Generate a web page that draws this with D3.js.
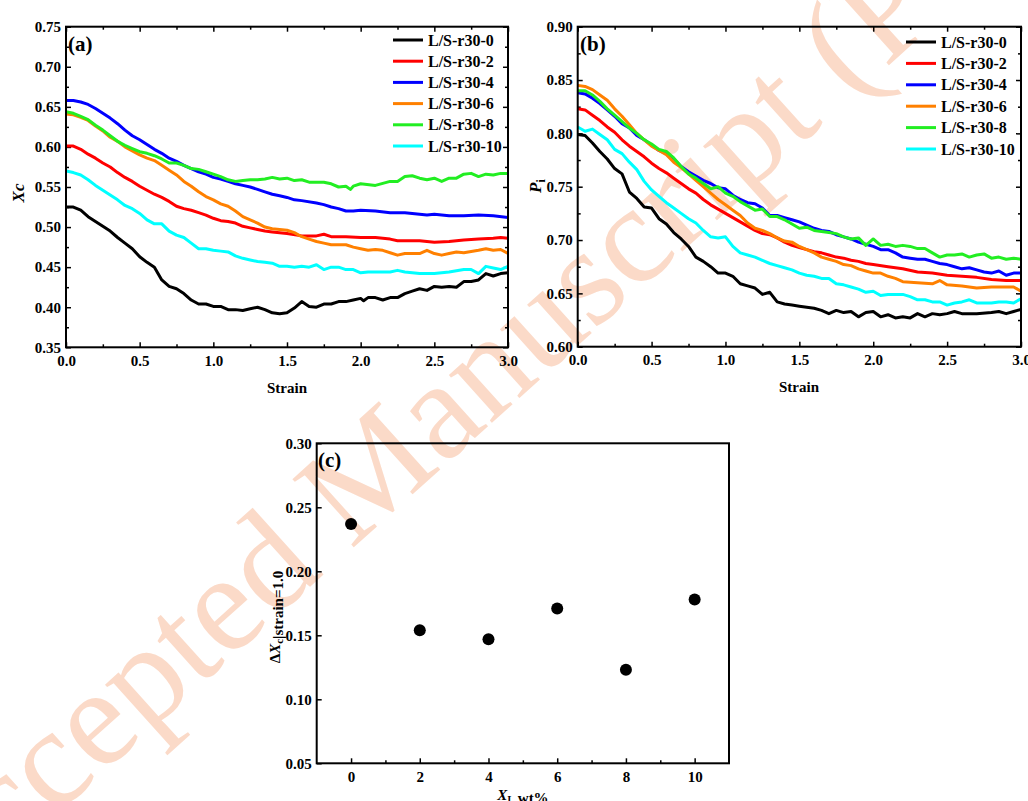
<!DOCTYPE html>
<html><head><meta charset="utf-8">
<script src="https://cdn.jsdelivr.net/npm/d3@7"></script>
<style>
body{margin:0;background:#fff}
svg{display:block}
text{font-family:"Liberation Serif","Times New Roman",serif}
</style>
</head><body>
<svg id="chart" width="1028" height="801"></svg>
<script>
// ---------------- DATA ----------------
const seriesNames = ["L/S-r30-0","L/S-r30-2","L/S-r30-4","L/S-r30-6","L/S-r30-8","L/S-r30-10"];
const strainTicks = [0,0.5,1.0,1.5,2.0,2.5,3.0];
const xcTicks = [0.35,0.40,0.45,0.50,0.55,0.60,0.65,0.70,0.75];
const piTicks = [0.60,0.65,0.70,0.75,0.80,0.85,0.90];
const dxcTicks = [0.05,0.10,0.15,0.20,0.25,0.30];
const xlTicks = [0,2,4,6,8,10];

// Panel (a): Xc vs strain, [strain, Xc]
const xc_r30_0 = [[0,.525],[.05,.525],[.1,.521],[.15,.513],[.2,.507],[.25,.501],[.3,.495],[.35,.487],[.4,.48],[.45,.473],[.5,.463],[.55,.456],[.6,.45],[.65,.434],[.7,.426],[.75,.423],[.8,.417],[.85,.409],[.9,.404],[.95,.404],[1,.401],[1.05,.401],[1.1,.397],[1.15,.397],[1.2,.396],[1.25,.398],[1.3,.4],[1.35,.397],[1.4,.393],[1.45,.392],[1.5,.393],[1.55,.399],[1.6,.407],[1.65,.401],[1.7,.4],[1.75,.404],[1.8,.404],[1.85,.407],[1.9,.407],[1.95,.409],[2,.411],[2.02,.408],[2.05,.412],[2.1,.412],[2.15,.409],[2.2,.412],[2.25,.412],[2.3,.417],[2.35,.42],[2.4,.423],[2.45,.421],[2.5,.426],[2.55,.425],[2.6,.426],[2.65,.425],[2.7,.432],[2.75,.432],[2.8,.434],[2.85,.442],[2.9,.439],[2.95,.442],[3,.443]];
const xc_r30_2 = [[0,.601],[.05,.601],[.1,.597],[.15,.591],[.2,.586],[.25,.58],[.3,.575],[.35,.568],[.4,.562],[.45,.557],[.5,.551],[.55,.546],[.6,.541],[.65,.537],[.7,.532],[.75,.526],[.8,.523],[.85,.521],[.9,.518],[.95,.515],[1,.511],[1.05,.508],[1.1,.507],[1.15,.505],[1.2,.501],[1.25,.499],[1.3,.497],[1.35,.495],[1.4,.494],[1.5,.492],[1.6,.489],[1.7,.489],[1.75,.491],[1.8,.488],[1.9,.488],[2,.487],[2.1,.487],[2.2,.485],[2.25,.483],[2.3,.483],[2.4,.483],[2.5,.481],[2.6,.482],[2.7,.484],[2.8,.485],[2.9,.486],[2.95,.487],[3,.486]];
const xc_r30_4 = [[0,.658],[.05,.658],[.1,.656],[.15,.653],[.2,.648],[.25,.642],[.3,.636],[.35,.629],[.4,.621],[.45,.614],[.5,.609],[.55,.603],[.6,.597],[.65,.592],[.7,.586],[.75,.582],[.8,.577],[.85,.573],[.9,.569],[.95,.566],[1,.562],[1.05,.56],[1.1,.557],[1.15,.554],[1.2,.552],[1.25,.55],[1.3,.547],[1.35,.544],[1.4,.541],[1.45,.539],[1.5,.537],[1.55,.534],[1.6,.533],[1.7,.53],[1.75,.528],[1.8,.525],[1.85,.523],[1.9,.52],[1.95,.52],[2,.521],[2.1,.52],[2.2,.518],[2.3,.518],[2.4,.516],[2.45,.515],[2.5,.516],[2.6,.514],[2.7,.514],[2.8,.515],[2.9,.514],[3,.512]];
const xc_r30_6 = [[0,.641],[.05,.64],[.1,.637],[.15,.633],[.2,.626],[.25,.62],[.3,.612],[.35,.607],[.4,.6],[.45,.595],[.5,.59],[.55,.586],[.6,.583],[.65,.577],[.7,.571],[.75,.565],[.8,.557],[.85,.551],[.9,.544],[.95,.538],[1,.534],[1.05,.529],[1.1,.526],[1.15,.52],[1.2,.513],[1.25,.509],[1.3,.505],[1.35,.5],[1.4,.498],[1.45,.497],[1.5,.496],[1.55,.493],[1.6,.488],[1.65,.485],[1.7,.482],[1.75,.48],[1.8,.478],[1.85,.478],[1.9,.478],[1.95,.475],[2,.473],[2.05,.471],[2.1,.472],[2.15,.471],[2.2,.468],[2.25,.465],[2.3,.467],[2.4,.467],[2.45,.471],[2.5,.467],[2.55,.465],[2.6,.467],[2.65,.469],[2.7,.468],[2.8,.471],[2.85,.473],[2.9,.471],[2.95,.472],[3,.467]];
const xc_r30_8 = [[0,.644],[.05,.642],[.1,.638],[.15,.634],[.2,.627],[.25,.621],[.3,.614],[.35,.607],[.4,.602],[.45,.598],[.5,.594],[.55,.592],[.6,.589],[.65,.585],[.7,.58],[.75,.58],[.8,.577],[.85,.573],[.9,.572],[.95,.569],[1,.566],[1.05,.563],[1.1,.559],[1.15,.557],[1.2,.558],[1.25,.559],[1.3,.559],[1.35,.56],[1.4,.562],[1.45,.56],[1.5,.561],[1.55,.558],[1.6,.559],[1.65,.556],[1.7,.556],[1.75,.556],[1.8,.554],[1.85,.55],[1.9,.551],[1.93,.547],[1.95,.551],[2,.554],[2.1,.552],[2.2,.557],[2.25,.557],[2.3,.563],[2.35,.564],[2.4,.561],[2.45,.559],[2.5,.561],[2.55,.557],[2.6,.561],[2.65,.561],[2.7,.566],[2.75,.567],[2.8,.563],[2.85,.566],[2.9,.565],[2.95,.567],[3,.567]];
const xc_r30_10 = [[0,.57],[.05,.568],[.1,.565],[.15,.559],[.2,.552],[.25,.546],[.3,.54],[.35,.534],[.4,.527],[.45,.523],[.5,.517],[.55,.509],[.6,.504],[.65,.504],[.7,.495],[.75,.49],[.8,.487],[.85,.48],[.9,.473],[.95,.473],[1,.471],[1.05,.47],[1.1,.469],[1.15,.464],[1.2,.461],[1.25,.459],[1.3,.457],[1.35,.456],[1.4,.455],[1.45,.451],[1.5,.451],[1.55,.45],[1.6,.451],[1.65,.45],[1.7,.453],[1.75,.447],[1.8,.45],[1.85,.45],[1.9,.447],[1.95,.447],[2,.443],[2.05,.444],[2.1,.444],[2.2,.444],[2.25,.446],[2.3,.444],[2.4,.442],[2.5,.442],[2.6,.444],[2.7,.447],[2.75,.447],[2.8,.442],[2.85,.451],[2.9,.449],[2.95,.447],[3,.451]];

// Panel (b): Pi vs strain, [strain, Pi]
const pi_r30_0 = [[0,.799],[.05,.798],[.1,.791],[.15,.783],[.2,.776],[.25,.767],[.3,.762],[.35,.745],[.4,.739],[.45,.731],[.5,.73],[.55,.72],[.6,.715],[.65,.707],[.7,.701],[.75,.694],[.8,.684],[.85,.68],[.9,.675],[.95,.669],[1,.669],[1.05,.666],[1.1,.659],[1.15,.657],[1.2,.655],[1.25,.649],[1.3,.651],[1.35,.642],[1.4,.64],[1.45,.639],[1.5,.638],[1.55,.637],[1.6,.636],[1.65,.634],[1.7,.631],[1.75,.634],[1.8,.632],[1.85,.633],[1.9,.628],[1.95,.632],[2,.633],[2.05,.628],[2.1,.63],[2.15,.627],[2.2,.628],[2.25,.627],[2.3,.631],[2.35,.628],[2.4,.631],[2.45,.63],[2.5,.631],[2.55,.633],[2.6,.631],[2.7,.631],[2.8,.632],[2.85,.633],[2.9,.631],[2.95,.633],[3,.635]];
const pi_r30_2 = [[0,.823],[.05,.822],[.1,.817],[.15,.812],[.2,.806],[.25,.801],[.3,.794],[.35,.788],[.4,.783],[.45,.778],[.5,.772],[.55,.767],[.6,.763],[.65,.758],[.7,.753],[.75,.748],[.8,.744],[.85,.738],[.9,.733],[.95,.729],[1,.725],[1.05,.721],[1.1,.717],[1.15,.713],[1.2,.709],[1.25,.706],[1.3,.705],[1.35,.702],[1.4,.698],[1.45,.695],[1.5,.693],[1.55,.691],[1.6,.689],[1.65,.688],[1.7,.686],[1.75,.684],[1.8,.683],[1.85,.681],[1.9,.68],[1.95,.678],[2,.677],[2.1,.675],[2.2,.673],[2.3,.67],[2.4,.669],[2.5,.667],[2.6,.666],[2.7,.665],[2.8,.663],[2.9,.662],[3,.662]];
const pi_r30_4 = [[0,.838],[.05,.837],[.1,.833],[.15,.828],[.2,.822],[.25,.816],[.3,.809],[.35,.805],[.4,.798],[.45,.794],[.5,.789],[.55,.784],[.6,.781],[.65,.776],[.7,.769],[.75,.764],[.8,.76],[.85,.756],[.9,.753],[.95,.749],[1,.748],[1.05,.742],[1.1,.738],[1.15,.735],[1.2,.734],[1.25,.73],[1.3,.723],[1.35,.723],[1.4,.721],[1.45,.719],[1.5,.717],[1.55,.714],[1.6,.711],[1.65,.709],[1.7,.708],[1.75,.705],[1.8,.703],[1.85,.701],[1.9,.698],[1.95,.696],[2,.694],[2.05,.691],[2.1,.691],[2.15,.688],[2.2,.684],[2.25,.683],[2.3,.682],[2.35,.682],[2.4,.68],[2.45,.678],[2.5,.677],[2.55,.675],[2.6,.673],[2.65,.674],[2.7,.672],[2.75,.67],[2.8,.669],[2.85,.671],[2.9,.667],[2.95,.669],[3,.669]];
const pi_r30_6 = [[0,.845],[.05,.844],[.1,.841],[.15,.836],[.2,.831],[.25,.823],[.3,.816],[.35,.808],[.4,.8],[.45,.794],[.5,.788],[.55,.784],[.6,.78],[.65,.773],[.7,.768],[.75,.762],[.8,.756],[.85,.75],[.9,.744],[.95,.738],[1,.733],[1.05,.728],[1.1,.723],[1.15,.716],[1.2,.711],[1.25,.709],[1.3,.706],[1.35,.702],[1.4,.699],[1.45,.698],[1.5,.694],[1.55,.691],[1.6,.688],[1.65,.684],[1.7,.682],[1.75,.68],[1.8,.677],[1.85,.676],[1.9,.673],[1.95,.671],[2,.669],[2.05,.669],[2.1,.666],[2.15,.664],[2.2,.661],[2.3,.66],[2.4,.659],[2.45,.662],[2.5,.658],[2.6,.657],[2.7,.655],[2.8,.656],[2.9,.656],[2.95,.656],[3,.652]];
const pi_r30_8 = [[0,.84],[.05,.84],[.1,.836],[.15,.83],[.2,.823],[.25,.817],[.3,.811],[.35,.805],[.4,.8],[.45,.794],[.5,.79],[.55,.785],[.6,.783],[.65,.777],[.7,.769],[.75,.762],[.8,.758],[.85,.753],[.9,.748],[.95,.75],[1,.744],[1.05,.741],[1.1,.736],[1.15,.732],[1.2,.728],[1.25,.729],[1.3,.722],[1.35,.722],[1.4,.719],[1.45,.715],[1.5,.711],[1.55,.712],[1.6,.709],[1.65,.708],[1.7,.707],[1.75,.706],[1.8,.703],[1.85,.701],[1.9,.702],[1.95,.695],[2,.701],[2.05,.695],[2.1,.696],[2.15,.694],[2.2,.695],[2.25,.694],[2.3,.692],[2.35,.692],[2.4,.688],[2.45,.684],[2.5,.686],[2.55,.686],[2.6,.687],[2.65,.684],[2.7,.686],[2.75,.687],[2.8,.683],[2.85,.684],[2.9,.682],[2.95,.683],[3,.682]];
const pi_r30_10 = [[0,.806],[.05,.802],[.1,.804],[.15,.799],[.2,.794],[.25,.785],[.3,.781],[.35,.773],[.4,.766],[.45,.755],[.5,.747],[.55,.741],[.6,.735],[.65,.73],[.7,.725],[.75,.72],[.8,.716],[.85,.709],[.9,.703],[.95,.702],[1,.703],[1.05,.694],[1.1,.688],[1.15,.686],[1.2,.684],[1.25,.681],[1.3,.678],[1.35,.676],[1.4,.674],[1.45,.672],[1.5,.669],[1.55,.667],[1.6,.666],[1.65,.664],[1.7,.664],[1.75,.659],[1.8,.658],[1.85,.656],[1.9,.654],[1.95,.651],[2,.652],[2.05,.648],[2.1,.649],[2.2,.649],[2.25,.647],[2.3,.644],[2.35,.644],[2.4,.642],[2.45,.642],[2.5,.639],[2.55,.641],[2.6,.642],[2.65,.644],[2.7,.641],[2.75,.641],[2.8,.641],[2.85,.642],[2.9,.642],[2.95,.641],[3,.645]];

// Panel (c)
const xlContent = [0,2,4,6,8,10];
const deltaXc = [0.237,0.154,0.147,0.171,0.123,0.178];

// ---------------- DRAW ----------------
const colors = ["#000000","#ff0000","#0000ff","#ff8000","#22ee22","#00ffff"];
const svg = d3.select("#chart");
const FONT = '"Liberation Serif","Times New Roman",serif';

// watermark
svg.append("text")
  .attr("transform","translate(-68,927) rotate(-42)")
  .attr("font-size",140).attr("fill","#fbdac8")
  .style("font-family",FONT)
  .text("Accepted Manuscript (P");

function styleAxis(g, labels){
  g.select(".domain").remove();
  g.selectAll(".tick line").attr("stroke","#000").attr("stroke-width",1.5);
  g.selectAll(".tick text").attr("fill","#000").style("font-family",FONT)
    .style("font-weight","bold").style("font-size","15px");
  if(!labels) g.selectAll(".tick text").remove();
}
function minorVals(major, step){
  const out=[];
  for(let i=0;i<major.length-1;i++){ out.push(+(major[i]+step).toFixed(4)); }
  return out;
}

function panel(p){
  const x = d3.scaleLinear().domain(p.xd).range([p.l,p.r]);
  const y = d3.scaleLinear().domain(p.yd).range([p.b,p.t]);
  const g = svg.append("g");
  const id = "clip"+p.name;
  svg.append("clipPath").attr("id",id).append("rect")
    .attr("x",p.l).attr("y",p.t).attr("width",p.r-p.l).attr("height",p.b-p.t);

  const fx = d3.format(p.xf), fy = d3.format(p.yf);
  g.append("g").attr("transform",`translate(0,${p.b})`)
   .call(d3.axisBottom(x).tickValues(p.xt).tickFormat(fx).tickSize(-5).tickPadding(8))
   .call(a=>styleAxis(a,true));
  g.append("g").attr("transform",`translate(0,${p.b})`)
   .call(d3.axisBottom(x).tickValues(p.xm).tickSize(-3))
   .call(a=>styleAxis(a,false));
  g.append("g").attr("transform",`translate(${p.l},0)`)
   .call(d3.axisLeft(y).tickValues(p.yt).tickFormat(fy).tickSize(-5).tickPadding(5))
   .call(a=>styleAxis(a,true));
  if(p.ym.length){
    g.append("g").attr("transform",`translate(${p.l},0)`)
     .call(d3.axisLeft(y).tickValues(p.ym).tickSize(-3))
     .call(a=>styleAxis(a,false));
  }
  if(p.mirror){
    g.append("g").attr("transform",`translate(0,${p.t})`)
     .call(d3.axisTop(x).tickValues(p.xt).tickSize(-5)).call(a=>styleAxis(a,false));
    g.append("g").attr("transform",`translate(0,${p.t})`)
     .call(d3.axisTop(x).tickValues(p.xm).tickSize(-3)).call(a=>styleAxis(a,false));
    g.append("g").attr("transform",`translate(${p.r},0)`)
     .call(d3.axisRight(y).tickValues(p.yt).tickSize(-5)).call(a=>styleAxis(a,false));
    g.append("g").attr("transform",`translate(${p.r},0)`)
     .call(d3.axisRight(y).tickValues(p.ym).tickSize(-3)).call(a=>styleAxis(a,false));
  }
  return {x,y,g,clip:id};
}

function frame(p){
  svg.append("rect").attr("x",p.l).attr("y",p.t).attr("width",p.r-p.l).attr("height",p.b-p.t)
    .attr("fill","none").attr("stroke","#000").attr("stroke-width",2);
}

function linePanel(p, data){
  const {x,y,g,clip} = panel(p);
  const line = d3.line().x(d=>x(d[0])).y(d=>y(d[1]));
  const lg = svg.append("g").attr("clip-path",`url(#${clip})`);
  data.forEach((s,i)=>{
    lg.append("path").datum(s).attr("d",line).attr("fill","none")
      .attr("stroke",colors[i]).attr("stroke-width",3).attr("stroke-linejoin","round");
  });
  frame(p);
  const leg = svg.append("g");
  seriesNames.forEach((n,i)=>{
    const yy = p.legY + i*p.legDy;
    leg.append("line").attr("x1",p.legX).attr("x2",p.legX+30).attr("y1",yy).attr("y2",yy)
      .attr("stroke",colors[i]).attr("stroke-width",3);
    leg.append("text").attr("x",p.legX+35).attr("y",yy).attr("dy","0.35em")
      .style("font-family",FONT).style("font-weight","bold").style("font-size","16px").text(n);
  });
  return {x,y};
}

// Panel (a)
const pa = {name:"a", l:66, r:508, t:26.7, b:347.3, xd:[0,3], yd:[0.35,0.75],
  xt:strainTicks, xm:minorVals(strainTicks,0.25), yt:xcTicks, ym:minorVals(xcTicks,0.025),
  xf:".1f", yf:".2f", mirror:true, legX:393, legY:40, legDy:21.2};
linePanel(pa,[xc_r30_0,xc_r30_2,xc_r30_4,xc_r30_6,xc_r30_8,xc_r30_10]);

// Panel (b)
const pb = {name:"b", l:577.7, r:1021, t:26.7, b:346.7, xd:[0,3], yd:[0.60,0.90],
  xt:strainTicks, xm:minorVals(strainTicks,0.25), yt:piTicks, ym:minorVals(piTicks,0.025),
  xf:".1f", yf:".2f", mirror:true, legX:906, legY:42, legDy:21.4};
linePanel(pb,[pi_r30_0,pi_r30_2,pi_r30_4,pi_r30_6,pi_r30_8,pi_r30_10]);

// Panel (c)
const xlMinor = [1,3,5,7,9];
const pc = {name:"c", l:316.7, r:729, t:443.3, b:763.3, xd:[-1,11], yd:[0.05,0.30],
  xt:xlTicks, xm:xlMinor, yt:dxcTicks, ym:[], xf:"d", yf:".2f", mirror:false};
const sc = panel(pc);
svg.append("g").selectAll("circle").data(xlContent).join("circle")
  .attr("cx",d=>sc.x(d)).attr("cy",(d,i)=>sc.y(deltaXc[i])).attr("r",6).attr("fill","#000");
frame(pc);

// Labels
function txt(x,y,size,content,opts={}){
  const t = svg.append("text").attr("x",x).attr("y",y)
    .style("font-family",FONT).style("font-weight","bold").style("font-size",size+"px");
  if(opts.anchor) t.attr("text-anchor",opts.anchor);
  if(opts.rotate) t.attr("transform",`rotate(-90,${x},${y})`);
  if(typeof content==="string") t.text(content);
  else content.forEach(s=>{
    const ts = t.append("tspan").text(s.t);
    if(s.i) ts.style("font-style","italic");
    if(s.sub) ts.attr("dy",s.dy||"0.25em").style("font-size",s.fs||(size*0.7)+"px");
  });
  return t;
}
txt(68,51,21,"(a)");
txt(580,51,21,"(b)");
txt(318,467,21,"(c)");
txt(287,393,15,"Strain",{anchor:"middle"});
txt(799,392,15,"Strain",{anchor:"middle"});
txt(24,193,17,[{t:"Xc",i:true}],{anchor:"middle",rotate:true});
txt(541,186,17,[{t:"P",i:true},{t:"i",sub:true,fs:"12px",dy:"0.3em"}],{anchor:"middle",rotate:true});
txt(280,617,15,[{t:"Δ"},{t:"X",i:true},{t:"c",sub:true,fs:"11px",dy:"0.3em"},{t:"|strain=1.0",fs:"12px"}],{anchor:"middle",rotate:true});
txt(523,800,15,[{t:"X",i:true},{t:"L",sub:true,fs:"10px",dy:"0.3em"},{t:" wt%",dy:"-0.3em"}],{anchor:"middle"});
</script>
</body></html>
